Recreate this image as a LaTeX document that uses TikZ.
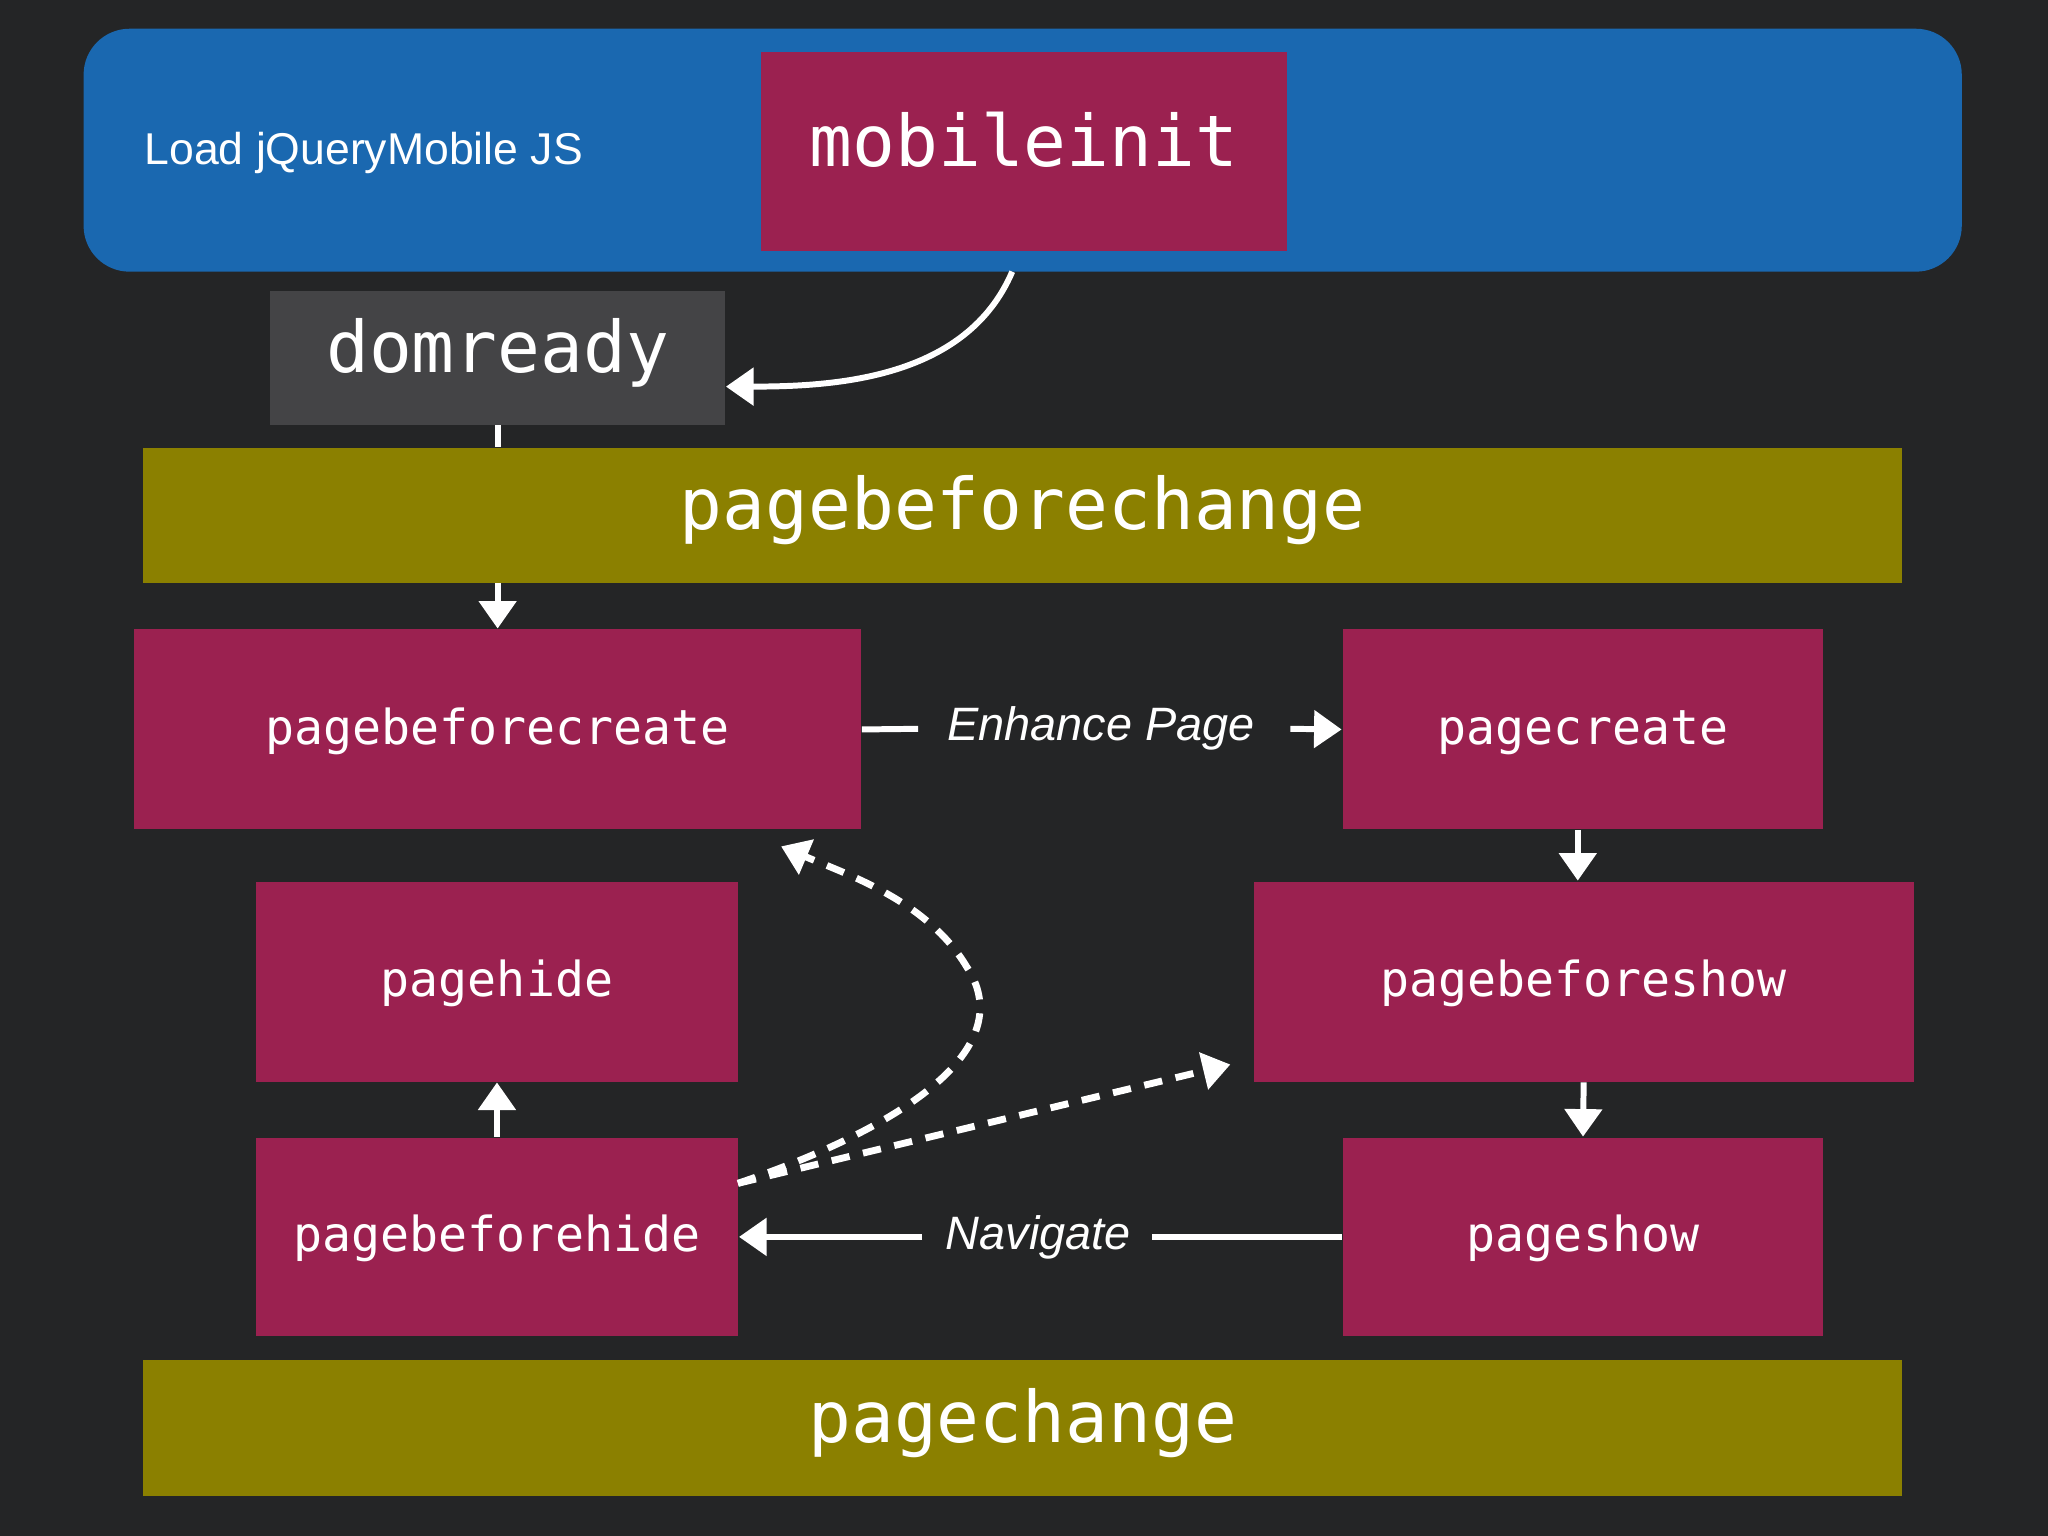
\documentclass[tikz,border=0pt]{standalone}
\usepackage{fontspec}
\setmainfont{Liberation Sans}
\newfontfamily\monofnt{DejaVu Sans Mono}
\usetikzlibrary{arrows.meta}
\definecolor{bg}{HTML}{242526}
\definecolor{crim}{HTML}{9B2150}
\definecolor{olive}{HTML}{8B8000}
\definecolor{blu}{HTML}{1A68B0}
\definecolor{gry}{HTML}{444446}
\tikzset{
  evbox/.style={fill=crim, draw=none, text=white, font=\monofnt\fontsize{10.5}{12}\selectfont, inner sep=0pt, text depth=0pt, text height=1.2ex},
  bigbox/.style={draw=none, text=white, font=\monofnt\fontsize{15.5}{18}\selectfont, inner sep=0pt, text depth=0pt, text height=1.2ex},
  conn/.style={white, line width=1.3pt},
  arr/.style={conn, -{Triangle[length=6pt,width=8pt]}},
  dashconn/.style={white, line width=1.5pt, dash pattern=on 4pt off 3pt, -{Triangle[length=6pt,width=8pt]}},
  lbl/.style={text=white, font=\fontsize{10.2}{12}\selectfont\itshape}
}
\begin{document}
\begin{tikzpicture}[x=0.01cm,y=-0.01cm]
\fill[bg] (0,0) rectangle (1568,1176);
\useasboundingbox (0,0) rectangle (1568,1176);
\fill[blu, rounded corners=10pt] (64,22) rectangle (1502,208);
\node[text=white, anchor=west, inner sep=0pt, font=\fontsize{9.7}{12}\selectfont] (load) at (110,117) {Load jQueryMobile JS};
\node[bigbox, fill=crim, minimum width=4.02cm, minimum height=1.52cm] (mi) at (784,116) {mobileinit};
\node[bigbox, fill=gry, minimum width=3.48cm, minimum height=1.02cm] (dr) at (381,274) {domready};
\node[bigbox, fill=olive, minimum width=13.46cm, minimum height=1.03cm] (pbc) at (783,394.5) {pagebeforechange};
\node[evbox, minimum width=5.56cm, minimum height=1.53cm] (pbcr) at (381,558.5) {pagebeforecreate};
\node[evbox, minimum width=3.68cm, minimum height=1.53cm] (pc) at (1212,558.5) {pagecreate};
\node[evbox, minimum width=3.69cm, minimum height=1.53cm] (ph) at (380.5,751.5) {pagehide};
\node[evbox, minimum width=5.05cm, minimum height=1.53cm] (pbs) at (1212.5,751.5) {pagebeforeshow};
\node[evbox, minimum width=3.69cm, minimum height=1.52cm] (pbh) at (380.5,947) {pagebeforehide};
\node[evbox, minimum width=3.68cm, minimum height=1.52cm] (ps) at (1212,947) {pageshow};
\node[bigbox, fill=olive, minimum width=13.46cm, minimum height=1.04cm] (pch) at (783,1093) {pagechange};
% connectors
\draw[arr] (775,208) .. controls (740,290) and (640,296) .. (dr.east |- 0,296);
\draw[conn] (dr.south) -- (pbc.north -| dr.south);
\draw[arr] (pbc.south -| pbcr.north) -- (pbcr.north);
\node[lbl] (enh) at (843,558) {Enhance Page};
\draw[conn] (pbcr.east) -- (703,558);
\draw[arr] (988,558) -- (pc.west);
\draw[arr] (pc.south -| 1208,0) -- (pbs.north -| 1208,0);
\draw[arr] (pbs.south) -- (ps.north);
\draw[arr] (pbh.north) -- (ph.south);
\node[lbl] (nav) at (795,947) {Navigate};
\draw[conn] (ps.west) -- (882,947);
\draw[arr] (706,947) -- (pbh.east);
\coordinate (ds) at (565,906);
\draw[dashconn] (ds) .. controls (700,860) and (780,800) .. (740,740) .. controls (710,690) and (650,670) .. (598,648);
\draw[dashconn] (ds) -- (942,815);
\end{tikzpicture}
\end{document}
